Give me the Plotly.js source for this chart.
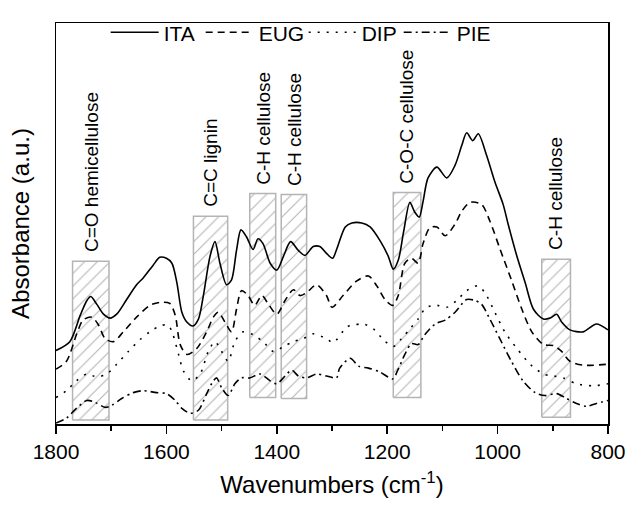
<!DOCTYPE html>
<html>
<head>
<meta charset="utf-8">
<script src="https://cdn.plot.ly/plotly-3.0.1.min.js"></script>
<style>html,body{margin:0;padding:0;background:#fff;}#chart{width:629px;height:505px;}</style>
</head>
<body>
<div id="chart"></div>
<script>
// Series names
const seriesNames = ["ITA", "EUG", "DIP", "PIE"];

// ITA (solid)
const itaX = [1800,1775,1756,1744,1737,1726,1714,1702,1690,1672,1654,1642,1624,1612,1600,1590,1581,1572,1563,1552,1542,1533,1521,1512,1503,1491,1482,1473,1465,1455,1443,1434,1425,1412,1400,1388,1375,1361,1349,1334,1322,1310,1299,1291,1276,1264,1246,1231,1213,1198,1189,1180,1170,1159,1150,1142,1135,1126,1110,1092,1077,1065,1056,1045,1035,1020,1005,990,981,965,950,935,917,905,893,884,869,845,821,800];
const itaY = [75,84,111,126,130,122,112,108,112,127,142,149,162,170,169,164,144,114,104,100,107,131,171,186,164,142,147,177,198,191,178,189,184,164,157,171,186,177,172,181,181,174,169,179,201,205,205,201,187,171,158,167,197,226,216,211,227,251,262,251,264,284,297,289,296,274,247,224,204,171,144,117,107,108,112,104,96,94,102,96];

// EUG (dashed)
const eugX = [1800,1781,1763,1751,1735,1723,1711,1696,1678,1654,1630,1612,1594,1584,1575,1563,1545,1527,1515,1506,1494,1482,1473,1464,1452,1440,1427,1415,1400,1385,1370,1358,1346,1328,1310,1300,1280,1255,1234,1219,1204,1190,1180,1168,1156,1144,1135,1123,1110,1095,1077,1065,1050,1029,1014,996,975,956,938,917,899,884,869,845,800];
const eugY = [56,64,91,106,109,101,87,84,94,109,121,124,123,111,81,71,77,94,109,114,104,94,117,136,131,121,131,122,112,126,137,131,134,142,131,119,131,146,151,141,127,121,131,164,169,164,184,200,201,192,204,217,226,224,207,179,147,117,94,81,80,74,64,60,61];

// DIP (dotted)
const dipX = [1800,1781,1763,1744,1726,1708,1690,1669,1648,1630,1612,1597,1588,1578,1569,1554,1539,1524,1512,1500,1488,1476,1461,1443,1425,1406,1388,1370,1352,1334,1310,1298,1273,1261,1243,1225,1207,1189,1174,1159,1144,1129,1110,1092,1074,1056,1035,1020,1005,987,965,941,917,899,881,857,827,800];
const dipY = [27,34,44,51,48,51,61,74,86,94,100,101,91,71,54,44,51,74,84,74,64,84,94,91,84,74,79,84,87,92,87,83,99,101,102,97,86,79,87,97,107,119,121,119,126,136,141,131,114,94,77,61,51,49,47,41,39,41];

// PIE (dash-dot)
const pieX = [1800,1781,1763,1744,1729,1711,1699,1681,1660,1642,1618,1600,1584,1572,1557,1542,1527,1515,1509,1500,1488,1476,1464,1449,1430,1412,1400,1385,1373,1361,1346,1328,1310,1292,1286,1267,1252,1234,1213,1190,1180,1168,1156,1144,1132,1113,1095,1077,1056,1041,1029,1014,996,975,954,932,914,893,875,857,839,821,800];
const pieY = [1,6,16,24,22,17,19,26,32,34,32,31,24,16,11,14,31,44,47,37,29,41,47,47,51,44,41,49,55,49,47,51,49,47,57,67,59,57,53,46,56,71,82,81,91,102,106,114,127,126,122,107,87,64,44,32,29,31,26,21,18,21,24];

// Assigned band regions
const regionLabels = ["C=O hemicellulose", "C=C lignin", "C-H cellulose", "C-H cellulose", "C-O-C cellulose", "C-H cellulose"];
const regionStart = [1770, 1551, 1449, 1392, 1189, 920];
const regionEnd = [1704, 1489, 1402, 1346, 1139, 868];
const regionBottom = [4, 4, 27, 26, 27, 7];
const regionTop = [166, 212, 235, 234, 236, 168];

const FONT = "Liberation Sans, Arial, Helvetica, sans-serif";
const traces = [];

for (let i = 0; i < regionLabels.length; i++) {
  traces.push({
    type: "scatter", mode: "lines",
    x: [regionStart[i], regionEnd[i], regionEnd[i], regionStart[i], regionStart[i]],
    y: [regionBottom[i], regionBottom[i], regionTop[i], regionTop[i], regionBottom[i]],
    fill: "toself",
    fillcolor: "rgba(0,0,0,0)",
    fillpattern: {shape: "/", fgcolor: "#b4b4b4", bgcolor: "rgba(255,255,255,0)", size: 9, solidity: 0.12},
    line: {color: "#b4b4b4", width: 1.5},
    showlegend: false, hoverinfo: "skip"
  });
}

const seriesX = [itaX, eugX, dipX, pieX];
const seriesY = [itaY, eugY, dipY, pieY];
const dashes = ["solid", "7px,5px", "2px,7px", "8px,4px,2px,4px"];
const entryWidths = [32, 40, 32, 34];
for (let i = 0; i < seriesNames.length; i++) {
  traces.push({
    type: "scatter", mode: "lines",
    name: seriesNames[i],
    legendwidth: entryWidths[i],
    x: seriesX[i], y: seriesY[i],
    line: {color: "#000", width: 1.6, dash: dashes[i], shape: "spline", smoothing: 0.8}
  });
}

const annotations = regionLabels.map((t, i) => ({
  x: (regionStart[i] + regionEnd[i]) / 2,
  y: regionTop[i],
  xref: "x", yref: "y",
  text: t, textangle: -90, showarrow: false,
  xanchor: "center", yanchor: "bottom", yshift: 7,
  font: {family: FONT, size: 19, color: "#000"}
}));

const layout = {
  width: 629, height: 505,
  margin: {l: 56, r: 21, t: 15, b: 81},
  paper_bgcolor: "#fff", plot_bgcolor: "#fff",
  font: {family: FONT, color: "#000"},
  showlegend: true,
  legend: {
    orientation: "h", x: 0.090, xanchor: "left", y: 1.027, yanchor: "top",
    bgcolor: "rgba(0,0,0,0)", borderwidth: 0,
    font: {family: FONT, size: 21, color: "#000"},
    itemwidth: 48, traceorder: "normal"
  },
  xaxis: {
    range: [1800, 800], tick0: 800, dtick: 200,
    ticks: "outside", ticklen: 8, tickwidth: 1.5, tickcolor: "#000",
    showline: true, linewidth: 1.5, linecolor: "#000", mirror: true,
    showgrid: false, zeroline: false,
    tickfont: {family: FONT, size: 21, color: "#000"},
    minor: {dtick: 100, ticks: "outside", ticklen: 5, tickwidth: 1.5, tickcolor: "#000", showgrid: false},
    title: {text: "Wavenumbers (cm<sup>-1</sup>)", font: {family: FONT, size: 24, color: "#000"}, standoff: 14}
  },
  yaxis: {
    range: [0, 409],
    showticklabels: false, ticks: "",
    showline: true, linewidth: 1.5, linecolor: "#000", mirror: true,
    showgrid: false, zeroline: false,
    title: {text: "Absorbance (a.u.)", font: {family: FONT, size: 24, color: "#000"}, standoff: 18}
  },
  annotations: annotations
};

Plotly.newPlot("chart", traces, layout, {displayModeBar: false, staticPlot: true});
</script>
</body>
</html>
